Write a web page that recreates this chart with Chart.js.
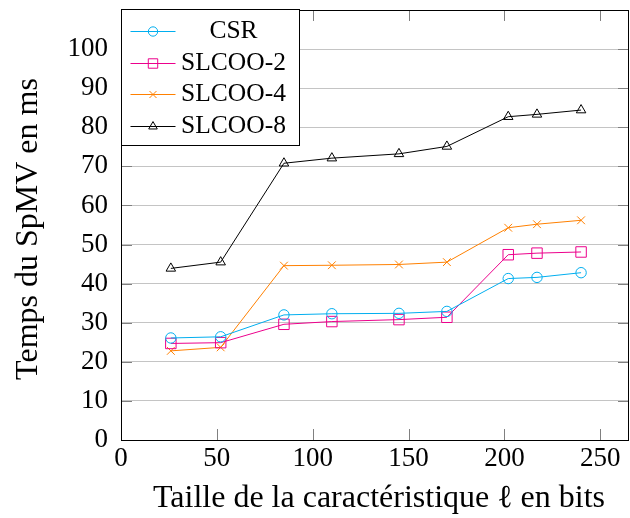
<!DOCTYPE html>
<html><head><meta charset="utf-8">
<script src="https://cdn.jsdelivr.net/npm/chart.js@4/dist/chart.umd.min.js"></script>
<style>html,body{margin:0;padding:0;background:#fff;}#wrap{width:630px;height:518px;}</style>
</head><body><div id="wrap"><canvas id="c" width="630" height="518"></canvas></div>
<script>
const featureBits = [26, 52, 85, 110, 145, 170, 202, 217, 240];
const csrTimes    = [26.1, 26.4, 32.0, 32.3, 32.4, 32.9, 41.3, 41.6, 42.8];
const slcoo2Times = [24.7, 24.9, 29.6, 30.3, 30.8, 31.4, 47.4, 47.8, 48.1];
const slcoo4Times = [22.8, 23.7, 44.6, 44.7, 44.9, 45.5, 54.3, 55.2, 56.2];
const slcoo8Times = [43.9, 45.5, 70.8, 72.1, 73.2, 75.1, 82.7, 83.3, 84.4];
const seriesNames = ['CSR', 'SLCOO-2', 'SLCOO-4', 'SLCOO-8'];
const xTickValues = [0, 50, 100, 150, 200, 250];
const yTickValues = [0, 10, 20, 30, 40, 50, 60, 70, 80, 90, 100];

const FONT = "'Liberation Serif', 'Times New Roman', serif";
const colors = ['#00AEEF', '#EC008C', '#FF8000', '#000000'];
const styles = ['circle', 'rect', 'crossRot', 'triangle'];
const radii = [5.2, 7.4, 5.5, 5.5];
const allSeries = [csrTimes, slcoo2Times, slcoo4Times, slcoo8Times];

const datasets = allSeries.map((vals, i) => ({
  label: seriesNames[i],
  data: featureBits.map((x, j) => ({x: x, y: vals[j]})),
  borderColor: colors[i],
  backgroundColor: 'rgba(0,0,0,0)',
  pointBorderColor: colors[i],
  pointBackgroundColor: 'rgba(0,0,0,0)',
  pointStyle: styles[i],
  pointRadius: radii[i],
  pointBorderWidth: 1,
  borderWidth: 1,
  tension: 0,
  fill: false
}));

function drawMarker(ctx, style, r, x, y, color) {
  ctx.save();
  ctx.strokeStyle = color; ctx.lineWidth = 1;
  ctx.beginPath();
  if (style === 'circle') {
    ctx.arc(x, y, r, 0, Math.PI * 2);
  } else if (style === 'rect') {
    const s = Math.SQRT1_2 * r;
    ctx.rect(x - s, y - s, 2 * s, 2 * s);
  } else if (style === 'crossRot') {
    const o = Math.SQRT1_2 * r;
    ctx.moveTo(x - o, y - o); ctx.lineTo(x + o, y + o);
    ctx.moveTo(x - o, y + o); ctx.lineTo(x + o, y - o);
  } else if (style === 'triangle') {
    let a = 0;
    ctx.moveTo(x + Math.sin(a) * r, y - Math.cos(a) * r);
    a += 2 * Math.PI / 3;
    ctx.lineTo(x + Math.sin(a) * r, y - Math.cos(a) * r);
    a += 2 * Math.PI / 3;
    ctx.lineTo(x + Math.sin(a) * r, y - Math.cos(a) * r);
    ctx.closePath();
  }
  ctx.stroke();
  ctx.restore();
}

const framePlugin = {
  id: 'frame',
  beforeDatasetsDraw(chart) {
    const {ctx, chartArea: a, scales} = chart;
    ctx.save();
    ctx.strokeStyle = '#808080'; ctx.lineWidth = 1;
    const tl = 11;
    ctx.beginPath();
    xTickValues.forEach(v => {
      const px = Math.round(scales.x.getPixelForValue(v)) + 0.5;
      ctx.moveTo(px, a.bottom); ctx.lineTo(px, a.bottom - tl);
      ctx.moveTo(px, a.top); ctx.lineTo(px, a.top + tl);
    });
    yTickValues.forEach(v => {
      const py = Math.round(scales.y.getPixelForValue(v)) + 0.5;
      ctx.moveTo(a.left, py); ctx.lineTo(a.left + tl, py);
      ctx.moveTo(a.right, py); ctx.lineTo(a.right - tl, py);
    });
    ctx.stroke();
    ctx.restore();
  },
  afterDatasetsDraw(chart) {
    const {ctx, chartArea: a} = chart;
    ctx.save();
    ctx.strokeStyle = '#000'; ctx.lineWidth = 1;
    const l = Math.floor(a.left) + 0.5, t = Math.floor(a.top) + 0.5;
    const r = Math.floor(a.right) - 0.5, b = Math.floor(a.bottom) + 0.5;
    ctx.strokeRect(l, t, r - l, b - t);
    ctx.restore();
  },
  afterDraw(chart) {
    const {ctx, chartArea: a} = chart;
    const L = Math.floor(a.left) + 0.5, T = Math.floor(a.top) - 0.5;
    const W = 178, H = 136;
    ctx.save();
    ctx.fillStyle = '#fff';
    ctx.fillRect(L, T, W, H);
    ctx.strokeStyle = '#000'; ctx.lineWidth = 1;
    ctx.strokeRect(L, T, W, H);
    ctx.font = '25.5px ' + FONT;
    ctx.textAlign = 'center'; ctx.textBaseline = 'middle';
    chart.data.datasets.forEach((ds, i) => {
      const y = Math.round(T + 21.5 + i * 31.5) + 0.5;
      ctx.strokeStyle = ds.borderColor; ctx.lineWidth = 1;
      ctx.beginPath(); ctx.moveTo(L + 9, y); ctx.lineTo(L + 54, y); ctx.stroke();
      drawMarker(ctx, ds.pointStyle, ds.pointRadius * 0.9, L + 31.5, y, ds.borderColor);
      ctx.fillStyle = '#000';
      ctx.fillText(ds.label, L + 112, y);
    });
    ctx.restore();
  }
};

function noPad(s) { s.paddingTop = 0; s.paddingBottom = 0; s.paddingLeft = 0; s.paddingRight = 0; }

new Chart(document.getElementById('c'), {
  type: 'line',
  data: {datasets: datasets},
  plugins: [framePlugin],
  options: {
    responsive: false,
    animation: false,
    devicePixelRatio: 1,
    layout: {autoPadding: false, padding: {top: 10, right: 1, left: 0, bottom: 0}},
    plugins: {legend: {display: false}, tooltip: {enabled: false}},
    scales: {
      x: {
        type: 'linear', min: 0, max: 265,
        afterBuildTicks: s => { s.ticks = xTickValues.map(v => ({value: v})); },
        afterFit: s => { s.height = 78; noPad(s); },
        grid: {display: false, drawTicks: false},
        border: {display: false},
        ticks: {color: '#000', font: {family: FONT, size: 27}, padding: 3, maxRotation: 0, autoSkip: false},
        title: {display: true, text: '\u00A0Taille de la caractéristique ℓ en bits', color: '#000',
                font: {family: FONT, size: 32}, padding: {top: 0, bottom: 0}}
      },
      y: {
        type: 'linear', min: 0, max: 110,
        afterBuildTicks: s => { s.ticks = yTickValues.map(v => ({value: v})); },
        afterFit: s => { s.width = 121; noPad(s); },
        grid: {color: '#c4c4c4', lineWidth: 1, drawTicks: false},
        border: {display: false},
        ticks: {color: '#000', font: {family: FONT, size: 27}, padding: 13, autoSkip: false},
        title: {display: true, text: 'Temps du SpMV en ms\u00A0', color: '#000',
                font: {family: FONT, size: 32}, padding: {top: 9, bottom: 0}}
      }
    }
  }
});
</script></body></html>
